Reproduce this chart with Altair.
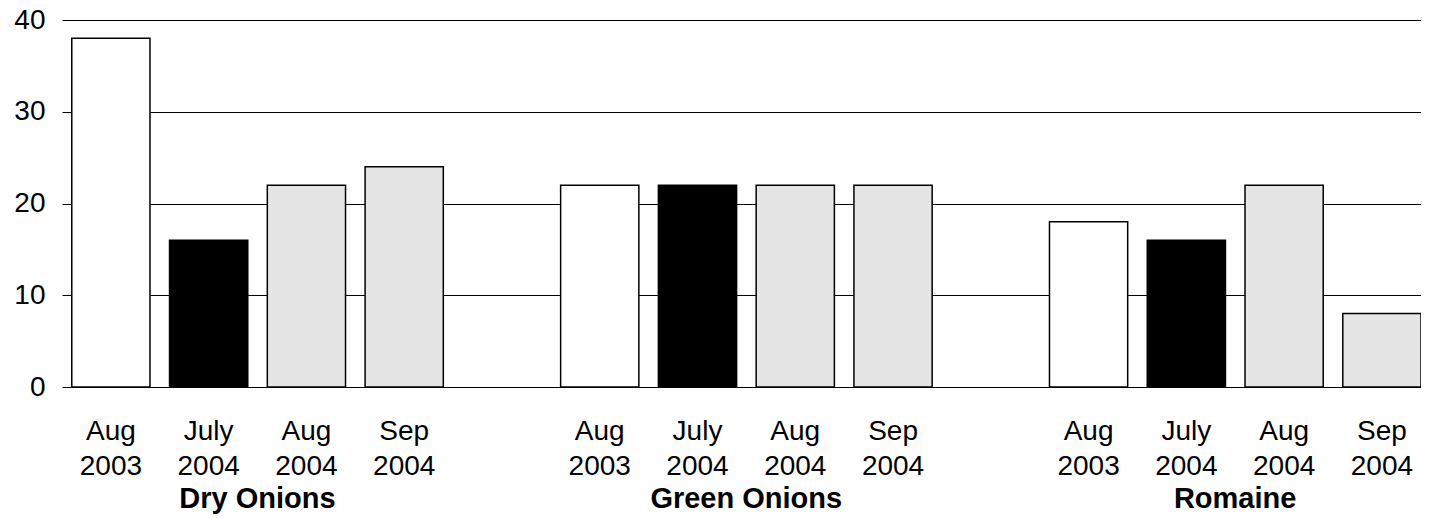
import altair as alt
import pandas as pd

groups = ["Dry Onions", "Green Onions", "Romaine"]
periods = ["Aug 2003", "July 2004", "Aug 2004", "Sep 2004"]
dry_onions = [38, 16, 22, 24]
green_onions = [22, 22, 22, 22]
romaine = [18, 16, 22, 8]
period_colors = ["#ffffff", "#000000", "#e5e5e5", "#e5e5e5"]
y_ticks = [0, 10, 20, 30, 40]

series = {"Dry Onions": dry_onions, "Green Onions": green_onions, "Romaine": romaine}

rows = []
domain = []
for gi, g in enumerate(groups):
    for p, v in zip(periods, series[g]):
        key = f"{p}|{g}"
        rows.append({"key": key, "group": g, "period": p, "value": v})
        domain.append(key)
    if gi < len(groups) - 1:
        domain.append(f"gap{gi}")
df = pd.DataFrame(rows)
labels_df = pd.DataFrame({"group": groups, "key": [f"{periods[2]}|{g}" for g in groups]})

FONT = "Liberation Sans"
W, H = 1359, 367

xscale = alt.Scale(domain=domain, paddingInner=0.2, paddingOuter=0.05, align=1)

bars = alt.Chart(df).mark_bar(stroke="black", strokeWidth=1.5).encode(
    x=alt.X("key:N", scale=xscale, sort=domain, title=None,
            axis=alt.Axis(domain=False, ticks=False, labelFont=FONT, labelFontSize=28,
                          labelColor="black", labelPadding=30, labelLineHeight=35,
                          labelAngle=0, labelBaseline="top",
                          labelExpr="slice(datum.label, 0, 3) == 'gap' ? '' : split(split(datum.label, '|')[0], ' ')")),
    y=alt.Y("value:Q", scale=alt.Scale(domain=[0, 40], nice=False), title=None,
            axis=alt.Axis(values=y_ticks, domain=False, ticks=False, grid=True,
                          gridColor="black", gridWidth=1, gridOpacity=1,
                          labelFont=FONT, labelFontSize=28, labelColor="black",
                          labelPadding=17)),
    fill=alt.Fill("period:N", scale=alt.Scale(domain=periods, range=period_colors), legend=None),
)

group_text = alt.Chart(labels_df).mark_text(
    font=FONT, fontSize=29, fontWeight="bold", color="black",
    baseline="alphabetic", align="center", dx=-49
).encode(
    x=alt.X("key:N", scale=xscale, sort=domain),
    y=alt.value(H + 121),
    text="group:N",
)

chart = alt.layer(bars, group_text).properties(
    width=W, height=H,
    autosize=alt.AutoSizeParams(type="none"),
    padding={"left": 54, "top": 12, "right": 0, "bottom": 130},
).configure_view(stroke=None)

chart.save("out.html", embed_options={"renderer": "svg", "actions": False})
